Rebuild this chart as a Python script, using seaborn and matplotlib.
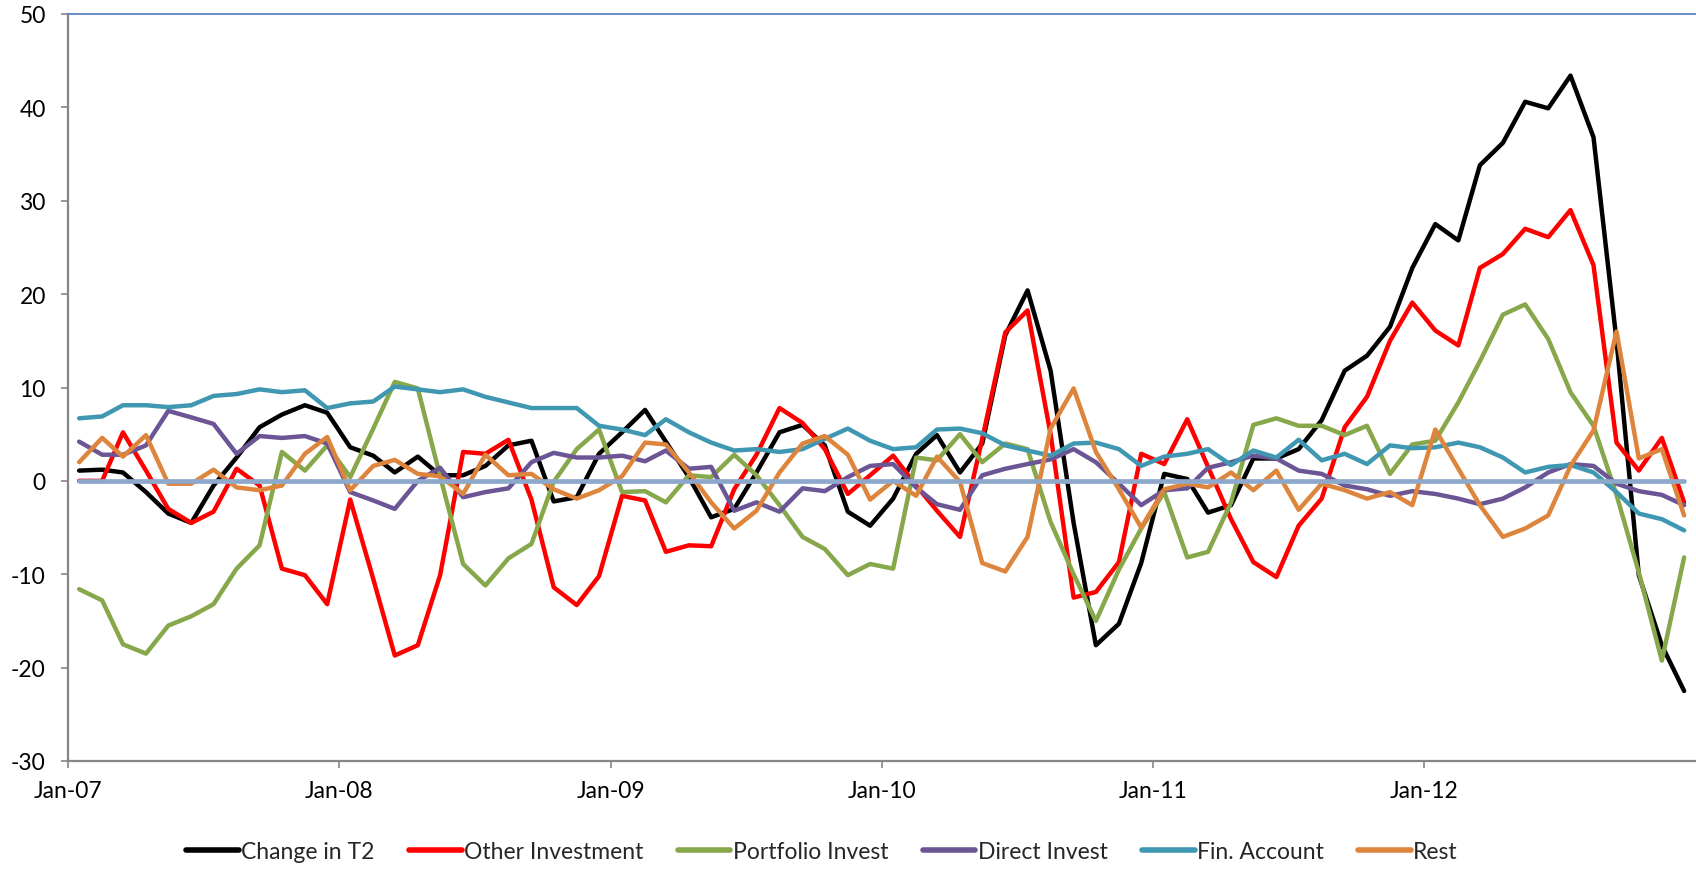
import matplotlib
matplotlib.use("Agg")
import matplotlib.pyplot as plt
import matplotlib.dates as mdates
import numpy as np
import pandas as pd
import seaborn as sns

# monthly observations, Jan-07 .. Dec-12
months = pd.date_range("2007-01-01", periods=72, freq="MS")
tick_dates = pd.date_range("2007-01-01", "2012-01-01", freq="YS")

change_t2 = [
    1.1, 1.2, 0.9, -1.2, -3.5, -4.5, -0.5, 2.5, 5.75, 7.1, 8.1, 7.3,
    3.6, 2.7, 0.9, 2.6, 0.6, 0.6, 1.6, 3.8, 4.3, -2.2, -1.75, 2.9,
    5.2, 7.6, 4.2, 0.4, -3.9, -3.0, 0.9, 5.2, 6.0, 3.8, -3.3, -4.8,
    -1.9, 2.9, 4.9, 0.9, 4.0, 15.6, 20.4, 11.8, -4.5, -17.6, -15.3, -8.8,
    0.75, 0.2, -3.4, -2.6, 2.4, 2.4, 3.4, 6.5, 11.8, 13.4, 16.5, 22.8,
    27.5, 25.75, 33.8, 36.2, 40.6, 39.9, 43.4, 36.8, 15.0, -10.1, -17.6, -22.5,
]
other_investment = [
    0.0, 0.0, 5.2, 1.1, -3.0, -4.5, -3.3, 1.3, -0.5, -9.4, -10.1, -13.2,
    -2.0, -10.5, -18.7, -17.6, -10.1, 3.1, 2.9, 4.4, -2.0, -11.4, -13.3, -10.2,
    -1.6, -2.1, -7.6, -6.9, -7.0, -0.9, 2.8, 7.8, 6.2, 3.4, -1.4, 0.6,
    2.7, -0.5, -3.2, -6.0, 4.5, 15.9, 18.25, 5.0, -12.5, -11.9, -8.7, 2.9,
    1.8, 6.6, 1.5, -4.1, -8.7, -10.3, -4.8, -1.9, 5.75, 9.0, 15.0, 19.1,
    16.1, 14.5, 22.8, 24.3, 27.0, 26.1, 29.0, 23.1, 4.1, 1.1, 4.6, -2.3,
]
portfolio_invest = [
    -11.6, -12.8, -17.5, -18.5, -15.5, -14.5, -13.2, -9.4, -6.9, 3.1, 1.1, 3.8,
    0.4, 5.6, 10.6, 9.9, 0.5, -8.9, -11.2, -8.3, -6.75, -0.1, 3.4, 5.5,
    -1.2, -1.1, -2.3, 0.6, 0.4, 2.8, 0.6, -2.6, -6.0, -7.3, -10.1, -8.9,
    -9.4, 2.5, 2.2, 5.0, 2.0, 4.0, 3.4, -4.4, -10.0, -15.0, -9.5, -5.1,
    -1.2, -8.2, -7.6, -2.3, 6.0, 6.7, 5.9, 5.9, 4.9, 5.9, 0.75, 3.9,
    4.3, 8.4, 12.8, 17.8, 18.9, 15.2, 9.5, 5.9, -1.5, -9.8, -19.25, -8.2,
]
direct_invest = [
    4.2, 2.8, 2.8, 3.8, 7.5, 6.8, 6.1, 2.9, 4.8, 4.6, 4.8, 4.0,
    -1.2, -2.1, -3.0, 0.0, 1.4, -1.75, -1.2, -0.8, 2.0, 3.0, 2.5, 2.5,
    2.7, 2.1, 3.25, 1.3, 1.5, -3.2, -2.3, -3.3, -0.8, -1.1, 0.4, 1.6,
    1.8, -0.7, -2.5, -3.1, 0.6, 1.3, 1.8, 2.3, 3.4, 2.0, -0.3, -2.6,
    -1.0, -0.8, 1.4, 2.0, 2.7, 2.4, 1.1, 0.75, -0.5, -0.9, -1.6, -1.1,
    -1.4, -1.9, -2.5, -1.9, -0.7, 0.9, 1.8, 1.6, -0.3, -1.1, -1.5, -2.6,
]
fin_account = [
    6.7, 6.9, 8.1, 8.1, 7.9, 8.1, 9.1, 9.3, 9.8, 9.5, 9.7, 7.8,
    8.3, 8.5, 10.1, 9.8, 9.5, 9.8, 9.0, 8.4, 7.8, 7.8, 7.8, 5.9,
    5.5, 4.9, 6.6, 5.2, 4.1, 3.25, 3.4, 3.1, 3.4, 4.5, 5.6, 4.3,
    3.4, 3.6, 5.5, 5.6, 5.1, 3.8, 3.25, 2.7, 4.0, 4.1, 3.4, 1.6,
    2.6, 2.9, 3.4, 1.7, 3.25, 2.5, 4.4, 2.2, 2.9, 1.8, 3.8, 3.5,
    3.6, 4.1, 3.6, 2.5, 0.9, 1.5, 1.7, 0.9, -1.2, -3.5, -4.1, -5.3,
]
rest = [
    2.0, 4.6, 2.6, 4.9, -0.3, -0.3, 1.2, -0.7, -1.0, -0.5, 2.9, 4.7,
    -1.0, 1.6, 2.25, 0.75, 0.5, -1.4, 2.8, 0.6, 0.75, -0.9, -1.9, -1.0,
    0.5, 4.1, 3.9, 0.9, -2.3, -5.1, -3.2, 0.9, 4.0, 4.8, 2.8, -2.0,
    0.0, -1.6, 2.6, -0.1, -8.8, -9.7, -6.0, 5.6, 9.9, 3.1, -0.9, -5.0,
    -0.9, -0.3, -0.7, 0.9, -1.0, 1.1, -3.1, -0.3, -1.0, -1.9, -1.2, -2.6,
    5.5, 1.3, -2.6, -6.0, -5.1, -3.7, 1.6, 5.4, 16.0, 2.4, 3.4, -3.7,
]
zero_line = [0.0] * 72

series_names = ["Change in T2", "Other Investment", "Portfolio Invest",
                "Direct Invest", "Fin. Account", "Rest"]
series_values = [change_t2, other_investment, portfolio_invest,
                 direct_invest, fin_account, rest]
colors = ["#000000", "#FF0000", "#87A74B", "#6B5595", "#3F97B1", "#DD853C"]

y_ticks = [-30, -20, -10, 0, 10, 20, 30, 40, 50]

sns.set_theme(style="white")
plt.rcParams["font.family"] = ["Lato", "DejaVu Sans"]
plt.rcParams["axes.unicode_minus"] = False

# points sit in the middle of each month, ticks on the 1st of January
mid_month = months + pd.Timedelta(days=15)
frames = []
for name, values in zip(series_names, series_values):
    frames.append(pd.DataFrame({"date": mid_month, "value": values, "series": name}))
data = pd.concat(frames, ignore_index=True)

fig = plt.figure(figsize=(16.96, 8.70), dpi=100)
ax = fig.add_axes([68 / 1696, 108 / 870, 1628 / 1696, 747 / 870])

sns.lineplot(
    data=data, x="date", y="value", hue="series", hue_order=series_names,
    palette=dict(zip(series_names, colors)), linewidth=3.2, legend=True,
    ax=ax, sort=False,
)
sns.lineplot(x=mid_month, y=zero_line, color="#8EA8CC", linewidth=3.4, ax=ax,
             legend=False, zorder=5)

ax.set_xlim(pd.Timestamp("2007-01-01"), pd.Timestamp("2013-01-01"))
ax.set_ylim(-30, 50)
ax.set_yticks(y_ticks)
ax.set_xticks(tick_dates)
ax.xaxis.set_major_formatter(mdates.DateFormatter("%b-%y"))
ax.set_xlabel("")
ax.set_ylabel("")

for side in ["left", "bottom"]:
    ax.spines[side].set_color("#868686")
    ax.spines[side].set_linewidth(1.6)
ax.spines["top"].set_color("#5B87C5")
ax.spines["top"].set_linewidth(1.3)
ax.spines["right"].set_visible(False)

ax.tick_params(axis="both", direction="out", length=5, width=1.2, color="#868686",
               labelsize=16.5, labelcolor="#000000")
ax.tick_params(axis="y", left=True, pad=11)
ax.tick_params(axis="x", bottom=True, pad=9)
ax.grid(False)

handles, labels = ax.get_legend_handles_labels()
ax.get_legend().remove()
fig.legend(
    handles, labels, loc="center", bbox_to_anchor=(822 / 1696, 1 - 853 / 870),
    ncol=6, frameon=False, fontsize=16.5, handlelength=2.3, handletextpad=0.1,
    columnspacing=1.5,
)
for line in fig.legends[0].get_lines():
    line.set_linewidth(4)

fig.savefig("out.png", dpi=100)
